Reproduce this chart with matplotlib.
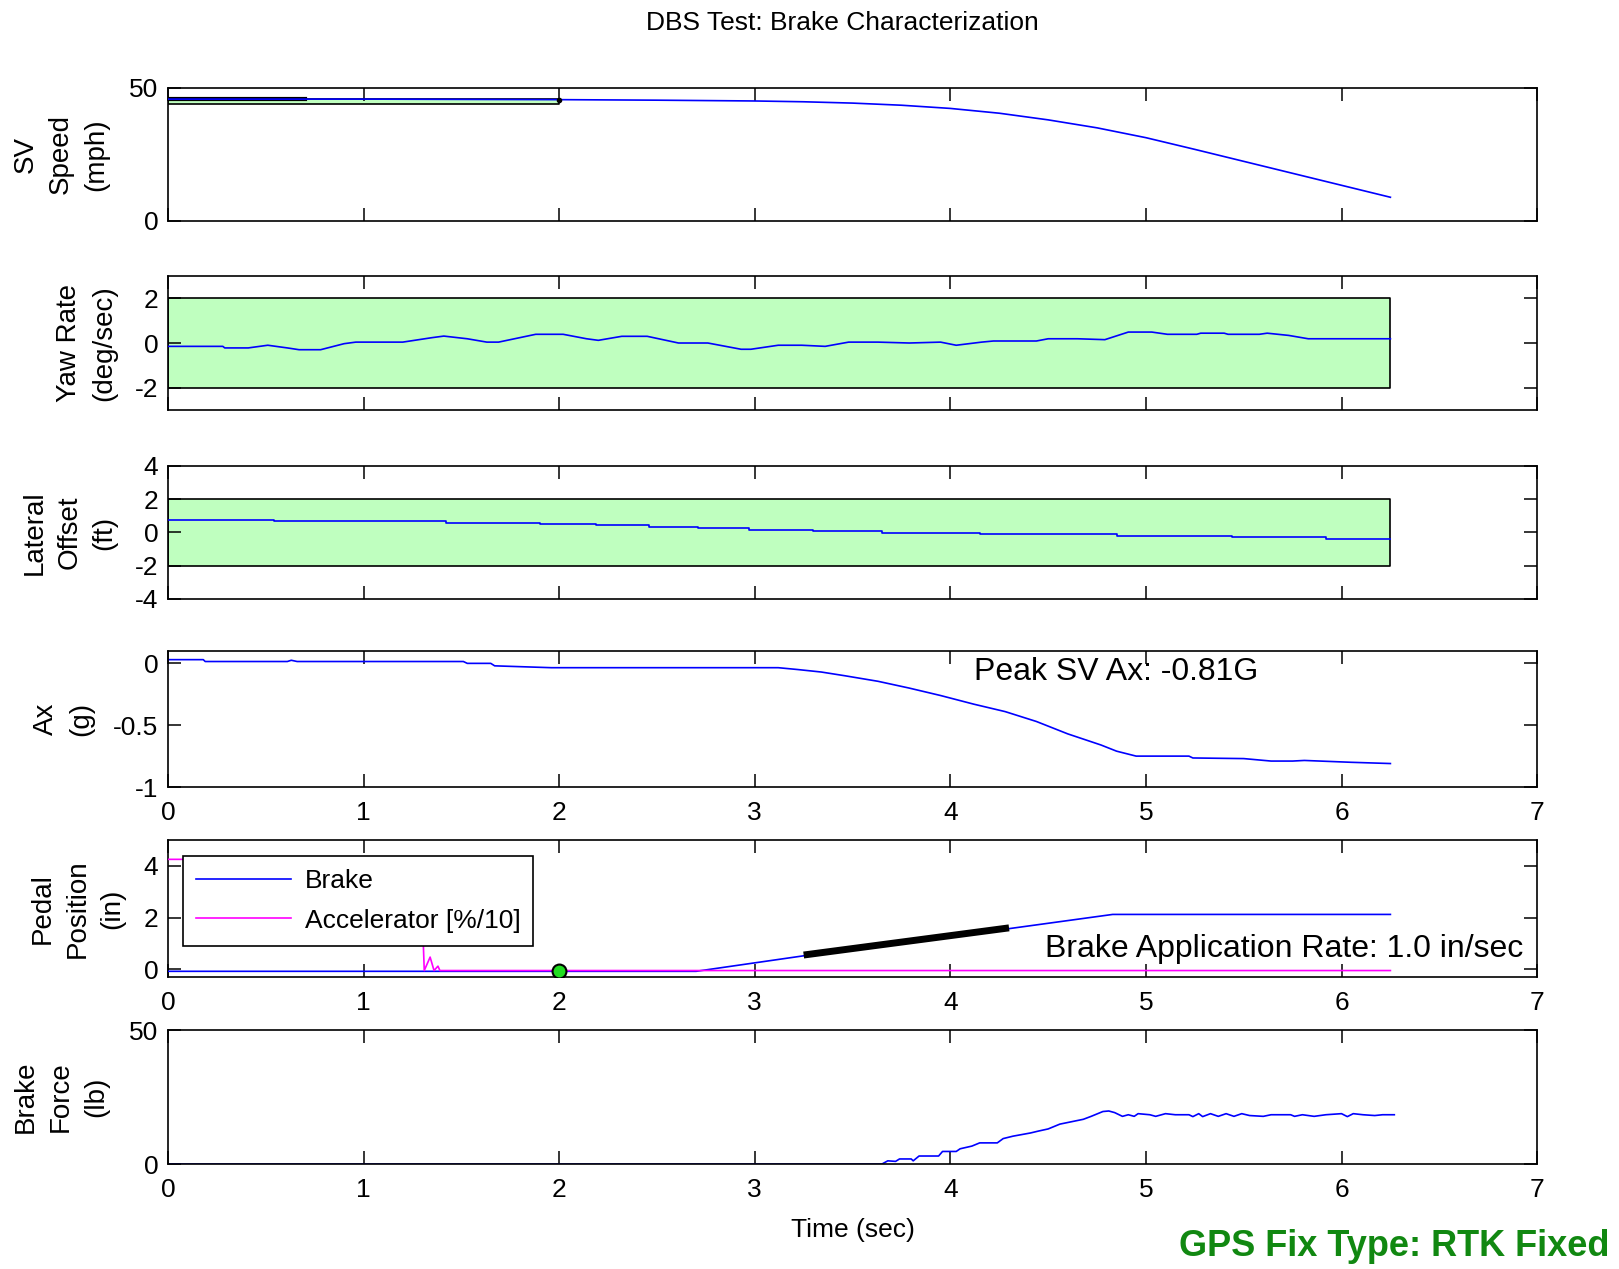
import matplotlib
matplotlib.use("Agg")
import matplotlib.pyplot as plt

plt.rcParams['font.family'] = ['Liberation Sans', 'DejaVu Sans']

# ---- data ----
t_speed = [0, 0.5, 1.0, 1.5, 2.0, 2.5, 3.0, 3.25, 3.5, 3.75, 4.0, 4.25, 4.5,
           4.75, 5.0, 5.25, 5.5, 5.75, 6.0, 6.25]
sv_speed = [45.8, 45.8, 45.8, 45.7, 45.6, 45.4, 45.1, 44.8, 44.3, 43.5, 42.3,
            40.5, 38.0, 35.0, 31.3, 26.9, 22.4, 17.9, 13.4, 8.9]
speed_ref_t = [0, 0.70]
speed_ref_v = [45.8, 45.8]
speed_band_t = [0, 2.0]
speed_band_lo = 44.0
speed_band_hi = 46.0

t_yaw = [0.00, 0.28, 0.29, 0.41, 0.51, 0.61, 0.67, 0.78, 0.90, 0.96,
         1.20, 1.35, 1.41, 1.53, 1.63, 1.69, 1.88, 2.02, 2.14, 2.20,
         2.32, 2.45, 2.61, 2.76, 2.93, 2.98, 3.12, 3.24, 3.36, 3.48,
         3.63, 3.79, 3.95, 4.03, 4.16, 4.22, 4.44, 4.50, 4.65, 4.79,
         4.91, 5.03, 5.11, 5.26, 5.28, 5.40, 5.42, 5.58, 5.62, 5.73,
         5.83, 6.25]
yaw_rate = [-0.15, -0.15, -0.22, -0.22, -0.10, -0.22, -0.30, -0.30, -0.03, 0.04,
            0.04, 0.24, 0.31, 0.19, 0.04, 0.04, 0.39, 0.39, 0.19, 0.12,
            0.30, 0.30, 0.00, 0.00, -0.28, -0.28, -0.10, -0.10, -0.15, 0.04,
            0.04, 0.00, 0.04, -0.10, 0.04, 0.09, 0.09, 0.19, 0.19, 0.15,
            0.49, 0.49, 0.39, 0.39, 0.44, 0.44, 0.39, 0.39, 0.44, 0.34,
            0.19, 0.19]
yaw_band = [-2, 2]

t_lat = [0, 0.54, 1.42, 1.90, 2.19, 2.46, 2.71, 2.97, 3.30, 3.65, 4.15,
         4.85, 5.44, 5.92, 6.25]
lat_offset = [0.77, 0.67, 0.57, 0.50, 0.42, 0.34, 0.24, 0.14, 0.06, -0.04,
              -0.12, -0.20, -0.28, -0.38, -0.38]
lat_band = [-2, 2]
band_t = [0, 6.25]

t_ax = [0, 0.18, 0.19, 0.61, 0.63, 0.66, 1.51, 1.53, 1.65, 1.67,
        1.96, 3.12, 3.22, 3.34, 3.46, 3.63, 3.79, 3.95, 4.12, 4.28,
        4.44, 4.60, 4.77, 4.85, 4.95, 5.22, 5.24, 5.50, 5.64, 5.75,
        5.81, 6.05, 6.25]
ax_g = [0.03, 0.03, 0.015, 0.015, 0.025, 0.015, 0.015, 0.0, 0.0, -0.02,
        -0.035, -0.035, -0.05, -0.07, -0.10, -0.145, -0.20, -0.26, -0.33, -0.39,
        -0.47, -0.57, -0.66, -0.71, -0.75, -0.75, -0.765, -0.77, -0.79, -0.79,
        -0.785, -0.80, -0.81]
peak_ax = -0.81

t_brake = [0, 2.70, 3.25, 4.30, 4.83, 6.25]
brake_pos = [-0.08, -0.08, 0.52, 1.57, 2.12, 2.12]
t_accel = [0, 1.29, 1.31, 1.34, 1.36, 1.38, 1.39, 1.41, 6.25]
accel_pos = [4.25, 4.25, -0.05, 0.47, -0.05, 0.12, -0.05, -0.05, -0.05]
rate_t = [3.25, 4.30]
rate_v = [0.55, 1.60]
rate_value = 1.0
marker_t = [2.0]
marker_v = [-0.05]

t_force = [0, 3.57, 3.65, 3.68, 3.72, 3.74, 3.80, 3.81, 3.84, 3.94,
           3.96, 4.03, 4.05, 4.11, 4.15, 4.24, 4.27, 4.32, 4.41, 4.45,
           4.50, 4.56, 4.62, 4.68, 4.72, 4.78, 4.81, 4.84, 4.88, 4.91,
           4.94, 4.96, 5.02, 5.05, 5.10, 5.15, 5.22, 5.24, 5.27, 5.29,
           5.33, 5.37, 5.41, 5.45, 5.49, 5.53, 5.60, 5.64, 5.74, 5.76,
           5.80, 5.86, 5.92, 6.00, 6.03, 6.06, 6.11, 6.17, 6.21, 6.27]
brake_force = [0, 0, 0, 1.2, 1.0, 1.9, 1.9, 1.2, 3.0, 3.0,
               4.7, 4.7, 5.7, 6.7, 7.9, 7.9, 9.5, 10.4, 11.6, 12.3,
               13.1, 14.9, 15.8, 16.7, 17.8, 19.6, 19.8, 19.2, 17.8, 18.4,
               17.8, 18.8, 18.4, 17.8, 18.8, 18.4, 18.4, 17.7, 18.8, 17.7,
               18.8, 17.8, 18.8, 17.8, 18.8, 18.1, 17.8, 18.4, 18.4, 17.8,
               18.4, 17.8, 18.4, 18.8, 17.7, 18.8, 18.4, 18.1, 18.4, 18.4]

x_ticks = [0, 1, 2, 3, 4, 5, 6, 7]

# ---- figure ----
FS = 19
BLUE = '#0000ff'
MAGENTA = '#ff00ff'
BAND = '#bfffbf'

fig = plt.figure(figsize=(16.19, 12.69), dpi=100)

left, width = 0.1038, 0.8456
rows = [(0.8259, 0.1048), (0.6769, 0.1056), (0.5280, 0.1048),
        (0.3798, 0.1072), (0.2301, 0.1080), (0.0827, 0.1056)]
axes = [fig.add_axes([left, b, width, h]) for b, h in rows]


def style(ax, ylim, yticks, ylabel, label_x, show_x):
    ax.set_xlim(0, 7)
    ax.set_ylim(*ylim)
    ax.set_xticks(x_ticks)
    ax.set_yticks(yticks)
    ax.set_yticklabels([('%g' % v) for v in yticks])
    ax.tick_params(direction='in', length=9.5, width=1.1, top=True, right=True,
                   labelsize=FS, color='black')
    ax.tick_params(axis='y', pad=7)
    ax.tick_params(axis='x', pad=10)
    if not show_x:
        ax.set_xticklabels([])
    for s in ax.spines.values():
        s.set_linewidth(1.2)
        s.set_color('black')
    ax.set_ylabel(ylabel, fontsize=20, linespacing=1.45)
    ax.yaxis.set_label_coords(label_x, 0.5)


# SV speed
a = axes[0]
a.fill_between(speed_band_t, speed_band_lo, speed_band_hi, facecolor=BAND,
               edgecolor='black', linewidth=1.2, zorder=1)
a.plot(speed_ref_t, speed_ref_v, color='black', lw=3, zorder=2)
a.plot(t_speed, sv_speed, color=BLUE, lw=1.2, zorder=3)
a.plot([2.0], [sv_speed[4]], 'o', color='black', ms=3, zorder=4)
style(a, (0, 50), [0, 50], 'SV\nSpeed\n(mph)', -0.043, False)

# Yaw rate
a = axes[1]
a.fill_between(band_t, yaw_band[0], yaw_band[1], facecolor=BAND,
               edgecolor='black', linewidth=1.2, zorder=1)
a.plot(t_yaw, yaw_rate, color=BLUE, lw=1.2, zorder=3)
style(a, (-3, 3), [-2, 0, 2], 'Yaw Rate\n(deg/sec)', -0.037, False)

# Lateral offset
a = axes[2]
a.fill_between(band_t, lat_band[0], lat_band[1], facecolor=BAND,
               edgecolor='black', linewidth=1.2, zorder=1)
a.step(t_lat, lat_offset, where='post', color=BLUE, lw=1.2, zorder=3)
style(a, (-4, 4), [-4, -2, 0, 2, 4], 'Lateral\nOffset\n(ft)', -0.037, False)

# Longitudinal acceleration
a = axes[3]
a.plot(t_ax, ax_g, color=BLUE, lw=1.2)
a.text(4.12, -0.07, 'Peak SV Ax: %.2fG' % peak_ax, fontsize=23,
       ha='left', va='center')
style(a, (-1, 0.1), [-1, -0.5, 0], 'Ax\n(g)', -0.054, True)

# Pedal position
a = axes[4]
a.plot(t_brake, brake_pos, color=BLUE, lw=1.2, label='Brake', zorder=3)
a.plot(t_accel, accel_pos, color=MAGENTA, lw=1.2, label='Accelerator [%/10]',
       zorder=3)
a.plot(rate_t, rate_v, color='black', lw=5, solid_capstyle='butt', zorder=4)
a.plot(marker_t, marker_v, 'o', ms=10, mfc='#22dd22', mec='black', mew=1.5,
       zorder=5)
a.text(6.93, 0.80, 'Brake Application Rate: %.1f in/sec' % rate_value,
       fontsize=23, ha='right', va='center')
leg = a.legend(loc='upper left', bbox_to_anchor=(0.011, 0.886),
               borderaxespad=0, fontsize=FS, fancybox=False, framealpha=1,
               edgecolor='black', handlelength=3.6, handletextpad=0.5,
               labelspacing=0.6, borderpad=0.5)
leg.get_frame().set_linewidth(1.2)
leg.set_zorder(10)
style(a, (-0.3, 5), [0, 2, 4], 'Pedal\nPosition\n(in)', -0.031, True)

# Brake force
a = axes[5]
a.plot(t_force, brake_force, color=BLUE, lw=1.2)
style(a, (0, 50), [0, 50], 'Brake\nForce\n(lb)', -0.043, True)
a.set_xlabel('Time (sec)', fontsize=FS)
a.xaxis.set_label_coords(0.5, -0.40)

fig.text(0.52, 0.982, 'DBS Test: Brake Characterization', fontsize=FS,
         ha='center', va='center')
fig.text(0.994, 0.018, 'GPS Fix Type: RTK Fixed', fontsize=26,
         fontweight='bold', color='#118811', ha='right', va='center')

fig.savefig('out.png', dpi=100)
